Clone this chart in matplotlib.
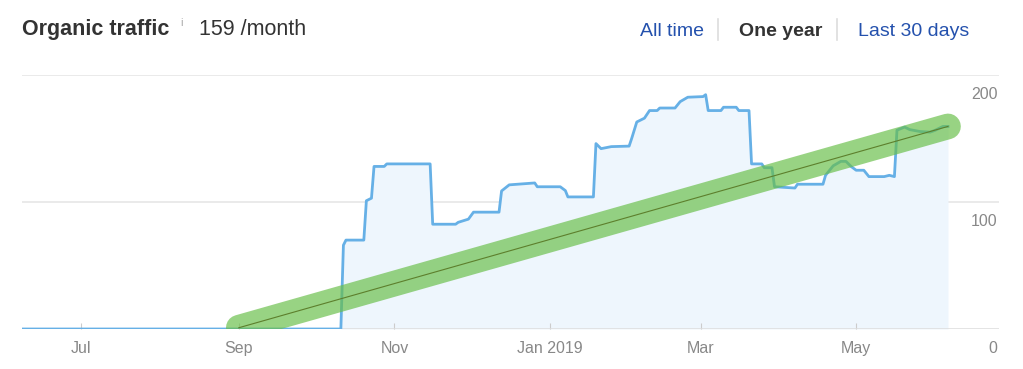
import numpy as np
import matplotlib
matplotlib.use("Agg")
import matplotlib.pyplot as plt
import matplotlib.dates as mdates
from datetime import date

plt.rcParams["font.family"] = ["Liberation Sans", "DejaVu Sans"]

# traffic readings (breakpoints of the step-like series)
traffic_dates = [
    "2018-06-08", "2018-10-11", "2018-10-12", "2018-10-13", "2018-10-20",
    "2018-10-21", "2018-10-23", "2018-10-24", "2018-10-28", "2018-10-29",
    "2018-11-15", "2018-11-16", "2018-11-25", "2018-11-26", "2018-11-30",
    "2018-12-02", "2018-12-12", "2018-12-13", "2018-12-16", "2018-12-26",
    "2018-12-27", "2019-01-05", "2019-01-07", "2019-01-08", "2019-01-18",
    "2019-01-19", "2019-01-21", "2019-01-25", "2019-02-01", "2019-02-02",
    "2019-02-04", "2019-02-07", "2019-02-09", "2019-02-12", "2019-02-13",
    "2019-02-19", "2019-02-21", "2019-02-24", "2019-03-02", "2019-03-03",
    "2019-03-04", "2019-03-09", "2019-03-10", "2019-03-15", "2019-03-16",
    "2019-03-20", "2019-03-21", "2019-03-25", "2019-03-26", "2019-03-29",
    "2019-03-30", "2019-04-07", "2019-04-08", "2019-04-18", "2019-04-19",
    "2019-04-22", "2019-04-25", "2019-04-27", "2019-04-29", "2019-05-01",
    "2019-05-04", "2019-05-06", "2019-05-12", "2019-05-14", "2019-05-16",
    "2019-05-17", "2019-05-20", "2019-05-22", "2019-05-26", "2019-05-30",
    "2019-06-01", "2019-06-04", "2019-06-06",
]
traffic_values = [
    0, 0, 66, 70, 70,
    101, 103, 128, 128, 130,
    130, 82.5, 82.5, 84, 86.5,
    92, 92, 108.7, 113.5, 115,
    112, 112, 109, 104, 104,
    146, 142, 143.6, 144, 150,
    163, 166, 172, 172, 174,
    174, 179, 182.5, 183, 184.5,
    172, 172, 174.6, 174.6, 172,
    172, 130, 130, 127, 127,
    112, 111, 114, 114, 121,
    128.5, 132, 132, 128, 125,
    125, 120, 120, 121, 120,
    156.5, 159, 157, 155.5, 155,
    156.5, 159.5, 159.5,
]

# hand-drawn trend line
trend_dates = ["2018-09-01", "2019-06-06"]
trend_values = [1, 159.5]

tick_dates = ["2018-07-01", "2018-09-01", "2018-11-01", "2019-01-01", "2019-03-01", "2019-05-01"]
tick_labels = ["Jul", "Sep", "Nov", "Jan 2019", "Mar", "May"]
y_ticks = [0, 100, 200]

x = np.array(traffic_dates, dtype="datetime64[D]")
y = np.array(traffic_values)
tx = np.array(trend_dates, dtype="datetime64[D]")
xt = np.array(tick_dates, dtype="datetime64[D]")

fig = plt.figure(figsize=(10.23, 3.69), dpi=100)
ax = fig.add_axes([22 / 1023, 40 / 369, 977 / 1023, 254 / 369])

ax.fill_between(x, 0, y, color="#eef6fd", lw=0, zorder=1)
ax.plot(x, y, color="#66b0e6", lw=2.0, zorder=3, solid_joinstyle="round")

ax.plot(tx, trend_values, color="#68be48", alpha=0.68, lw=18.5, solid_capstyle="round", zorder=4)
ax.plot(tx, trend_values, color="#5d7f2c", lw=0.8, zorder=5)

ax.set_xlim(date(2018, 6, 8), date(2019, 6, 26))
ax.set_ylim(0, 200)

for v in y_ticks:
    if v == 0:
        ax.axhline(v, color="#dcdcdc", lw=1.8, zorder=2)
    else:
        ax.axhline(v, color="#e6e6e6", lw=1.2, zorder=0)
    ax.annotate(str(v), xy=(1, v), xycoords=("axes fraction", "data"),
                xytext=(-1, -13.7), textcoords="offset points",
                ha="right", va="center", fontsize=11.5, color="#888888")

ax.set_xticks(xt)
ax.set_xticklabels(tick_labels)
ax.tick_params(axis="x", direction="in", length=4.5, width=0.8, color="#cccccc",
               pad=8.5, labelsize=11.5, labelcolor="#888888")
ax.set_yticks([])
for s in ax.spines.values():
    s.set_visible(False)

# header
fig.text(22 / 1023, 1 - 35 / 369, "Organic traffic", fontsize=15.5, fontweight="bold",
         color="#333333", va="baseline")
fig.text(180 / 1023, 1 - 26 / 369, "i", fontsize=8, color="#aaaaaa", va="baseline")
fig.text(199 / 1023, 1 - 35 / 369, "159 /month", fontsize=15.5, color="#333333", va="baseline")

fig.text(640 / 1023, 1 - 36 / 369, "All time", fontsize=14, color="#2451ad", va="baseline")
fig.text(739 / 1023, 1 - 36 / 369, "One year", fontsize=14, fontweight="bold", color="#333333", va="baseline")
fig.text(858 / 1023, 1 - 36 / 369, "Last 30 days", fontsize=14, color="#2451ad", va="baseline")
for sx in [718, 837]:
    fig.add_artist(plt.Line2D([sx / 1023, sx / 1023], [1 - 19 / 369, 1 - 40 / 369],
                              color="#dddddd", lw=1.2))

fig.savefig("out.png", dpi=100)
